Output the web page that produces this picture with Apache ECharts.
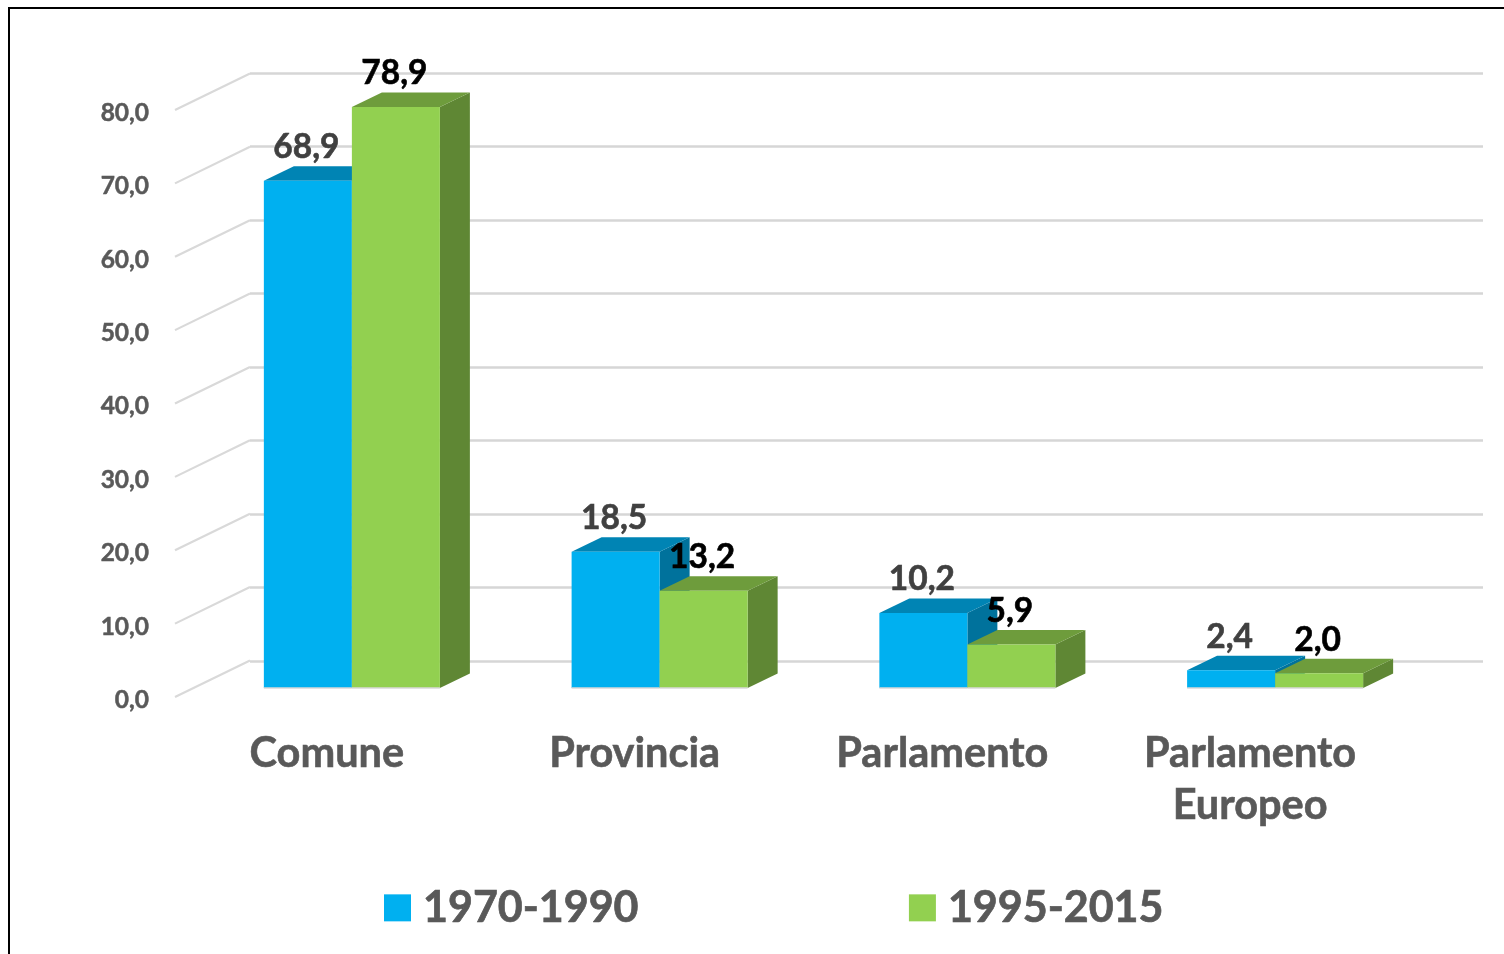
<!DOCTYPE html>
<html>
<head>
<meta charset="utf-8">
<script src="https://cdn.jsdelivr.net/npm/echarts@6/dist/echarts.min.js"></script>
<style>html,body{margin:0;padding:0;background:#fff}#c{width:1504px;height:954px}</style>
</head>
<body>
<div id="c"></div>
<script>
const categories = ['Comune', 'Provincia', 'Parlamento', 'Parlamento\nEuropeo'];
const seriesNames = ['1970-1990', '1995-2015'];
const values1970 = [68.9, 18.5, 10.2, 2.4];
const values1995 = [78.9, 13.2, 5.9, 2.0];
const yTicks = [0, 10, 20, 30, 40, 50, 60, 70, 80];

const FONT = 'Lato, Carlito, "Open Sans", sans-serif';
const fmt = v => v.toFixed(1).replace('.', ',');
const chart = echarts.init(document.getElementById('c'), null, {renderer: 'canvas'});

function barRender(side, faces, labelColor) {
  return function (params, api) {
    const v = api.value(1);
    const base = api.coord([api.value(0), 0]);
    const top = api.coord([api.value(0), v]);
    const barW = api.size([1, 0])[0] * 0.286;
    const dx = 30, dy = 14.5;
    const x0 = side === 0 ? base[0] - barW : base[0];
    const x1 = x0 + barW, y0 = top[1], y1 = base[1];
    return {
      type: 'group',
      children: [
        {type: 'polygon', shape: {points: [[x1, y0], [x1 + dx, y0 - dy], [x1 + dx, y1 - dy], [x1, y1]]}, style: {fill: faces.side}},
        {type: 'polygon', shape: {points: [[x0, y0], [x0 + dx, y0 - dy], [x1 + dx, y0 - dy], [x1, y0]]}, style: {fill: faces.top}},
        {type: 'rect', shape: {x: x0, y: y0, width: barW, height: y1 - y0}, style: {fill: faces.front}},
        {type: 'line', shape: {x1: x0, y1: y1, x2: x1, y2: y1}, style: {stroke: '#d9d9d9', lineWidth: 1.5}},
        {type: 'text', z2: 50, style: {text: fmt(v), x: (x0 + x1) / 2 - 1.5, y: y0 - 33.5, align: 'center', verticalAlign: 'middle',
          textAlign: 'center', textVerticalAlign: 'middle', fill: labelColor, stroke: labelColor, lineWidth: 0.6, font: 'bold 33.5px ' + FONT}}
      ]
    };
  };
}

function tickRender(params, api) {
  const p = api.coord([0, api.value(1)]);
  const x = p[0] - api.size([1, 0])[0] / 2;
  return {type: 'line', shape: {x1: x, y1: p[1], x2: x + 75, y2: p[1] - 36.6},
    style: {stroke: '#d9d9d9', lineWidth: 2.2}};
}

const hiddenX = i => ({type: 'category', gridIndex: i, data: categories, show: false});
const hiddenY = i => ({type: 'value', gridIndex: i, min: 0, max: 80, interval: 10, show: false});

chart.setOption({
  animation: false,
  backgroundColor: '#fff',
  graphic: [{type: 'rect', silent: true, z: 100, shape: {x: 9, y: 8, width: 1700, height: 1200},
    style: {fill: 'none', stroke: '#000', lineWidth: 2}}],
  grid: [
    {left: 250, top: 73, width: 1233, height: 588},
    {left: 175, top: 110, width: 1231, height: 587},
    {left: 198, top: 99, width: 1231, height: 589},
    {left: 173, top: 113, width: 1231, height: 587}
  ],
  xAxis: [
    hiddenX(0),
    hiddenX(1),
    hiddenX(2),
    {type: 'category', gridIndex: 3, data: categories,
      axisLine: {show: false}, axisTick: {show: false},
      axisLabel: {margin: 28, color: '#595959', fontFamily: FONT, fontWeight: 'bold', fontSize: 41.5, lineHeight: 52, interval: 0,
        textBorderColor: '#595959', textBorderWidth: 0.6}}
  ],
  yAxis: [
    {type: 'value', gridIndex: 0, min: 0, max: 80, interval: 10,
      axisLine: {show: false}, axisTick: {show: false}, axisLabel: {show: false},
      splitLine: {show: true, lineStyle: {color: '#d6d6d6', width: 2.6}}},
    hiddenY(1),
    hiddenY(2),
    {type: 'value', gridIndex: 3, min: 0, max: 80, interval: 10,
      axisLine: {show: false}, axisTick: {show: false}, splitLine: {show: false},
      axisLabel: {margin: 24, color: '#595959', fontFamily: FONT, fontWeight: 'bold', fontSize: 24.5, formatter: fmt,
        textBorderColor: '#595959', textBorderWidth: 0.5}}
  ],
  legend: {
    left: 379, top: 881, itemWidth: 27, itemHeight: 27, itemGap: 270,
    icon: 'rect',
    data: seriesNames,
    textStyle: {color: '#595959', fontFamily: FONT, fontWeight: 'bold', fontSize: 43, padding: [0, 0, 0, 7],
      textBorderColor: '#595959', textBorderWidth: 0.7}
  },
  series: [
    {type: 'custom', name: 'ticks', xAxisIndex: 1, yAxisIndex: 1, clip: false, z: 1,
      data: yTicks.map(t => [0, t]), renderItem: tickRender, silent: true},
    {type: 'custom', name: seriesNames[0], xAxisIndex: 2, yAxisIndex: 2, clip: false, z: 3,
      itemStyle: {color: '#00B0F0'},
      data: values1970.map((v, i) => [i, v]),
      renderItem: barRender(0, {front: '#00B0F0', top: '#0084B4', side: '#00729C'}, '#404040')},
    {type: 'custom', name: seriesNames[1], xAxisIndex: 2, yAxisIndex: 2, clip: false, z: 4,
      itemStyle: {color: '#92D050'},
      data: values1995.map((v, i) => [i, v]),
      renderItem: barRender(1, {front: '#92D050', top: '#6E9C3C', side: '#5F8734'}, '#000000')}
  ]
});
</script>
</body>
</html>
